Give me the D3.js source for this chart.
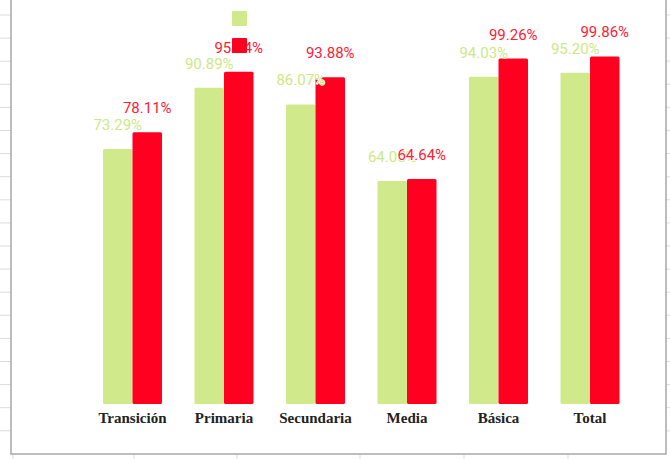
<!DOCTYPE html>
<html><head><meta charset="utf-8">
<script src="https://cdn.jsdelivr.net/npm/d3@7"></script>
<style>html,body{margin:0;padding:0;background:#fff;}svg{display:block;}</style>
</head><body>
<script>
const categories = ["Transición","Primaria","Secundaria","Media","Básica","Total"];
const seriesNames = ["s1","s2"];
const greenValues = [73.29, 90.89, 86.07, 64.05, 94.03, 95.20];
const redValues = [78.11, 95.44, 93.88, 64.64, 99.26, 99.86];
const colors = {s1:"#d0e98a", s2:"#ff0020"};
const labelColors = {s1:"#cde886", s2:"#ff2035"};

const W=670,H=459;
const svg=d3.select("body").append("svg").attr("width",W).attr("height",H);

// spreadsheet background lines outside the chart frame
const bg=svg.append("g");
d3.range(19).forEach(k=>{
  const y=15+23.1*k;
  bg.append("line").attr("x1",0).attr("x2",W).attr("y1",y).attr("y2",y).attr("stroke","#dcdcdc").attr("stroke-width",1);
});
[13,134,237,360,464,568].forEach(x=>{
  bg.append("line").attr("x1",x).attr("x2",x).attr("y1",440).attr("y2",H).attr("stroke","#dcdcdc");
});
// frame
svg.append("rect").attr("x",11).attr("y",-3).attr("width",655).attr("height",457)
  .attr("fill","#fff").attr("stroke","#a8a8a8").attr("stroke-width",1.5);

const x0=d3.scaleBand().domain(categories).range([86.75,635.75]).paddingInner(0.355).paddingOuter(0.1775);
const x1=d3.scaleBand().domain(seriesNames).range([0,x0.bandwidth()]);
const y=d3.scaleLinear().domain([0,100]).range([404,56]);

const data=categories.map((c,i)=>({cat:c, vals:[{k:"s1",v:greenValues[i]},{k:"s2",v:redValues[i]}]}));

const g=svg.append("g");
const groups=g.selectAll("g.grp").data(data).enter().append("g").attr("transform",d=>`translate(${x0(d.cat)},0)`);
groups.selectAll("rect").data(d=>d.vals).enter().append("rect")
  .attr("x",d=>x1(d.k)).attr("width",x1.bandwidth()).attr("y",d=>y(d.v)).attr("height",d=>y(0)-y(d.v))
  .attr("fill",d=>colors[d.k]).attr("rx",1.5);

// category axis labels
const xAxis=d3.axisBottom(x0).tickSize(0).tickPadding(0);
const ax=svg.append("g").attr("transform","translate(0,410)").call(xAxis);
ax.select(".domain").remove();
ax.selectAll("text").attr("font-family","'Liberation Serif','Times New Roman',serif").attr("font-weight","bold")
  .attr("font-size",15).attr("fill","#222").attr("dy","13px");

// value labels
seriesNames.forEach(s=>{
  const lg=svg.append("g");
  data.forEach(d=>{
    const v=d.vals.find(e=>e.k===s);
    lg.append("text").attr("x",x0(d.cat)+x1(s)+x1.bandwidth()/2).attr("y",y(v.v)-19)
      .attr("text-anchor","middle").attr("font-family","Roboto,sans-serif").attr("font-size",15)
      .attr("fill",labelColors[s]).attr("stroke","#fff").attr("stroke-width",1.5).attr("paint-order","stroke")
      .attr("stroke-linejoin","round")
      .text(v.v.toFixed(2)+"%");
  });
});

// legend (no text)
const leg=svg.append("g");
seriesNames.forEach((s,i)=>{
  leg.append("rect").attr("x",232).attr("y",11+i*27).attr("width",15).attr("height",15).attr("fill",colors[s]).attr("rx",1);
});
</script>
</body></html>
